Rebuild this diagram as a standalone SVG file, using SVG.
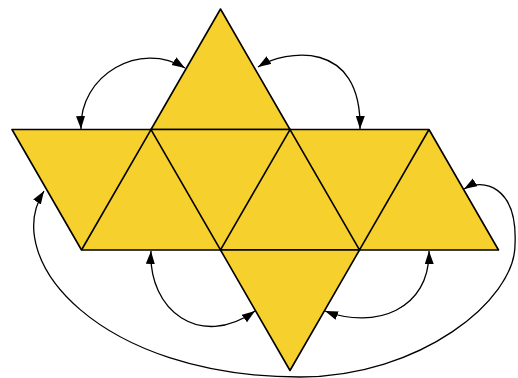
<svg xmlns="http://www.w3.org/2000/svg" width="518" height="378" viewBox="0 0 518 378">
<style>
.face{fill:#F6D02C;stroke:#000;stroke-width:1.6;stroke-linejoin:round}
.edge{fill:none;stroke:#000;stroke-width:1.6}
.conn{fill:none;stroke:#000;stroke-width:1.3;marker-start:url(#ah);marker-end:url(#ah)}
</style>
<defs>
<marker id="ah" markerUnits="userSpaceOnUse" markerWidth="14" markerHeight="10" refX="13" refY="4.5" orient="auto-start-reverse">
<path d="M0,0 L13,4.5 L0,9 Z" fill="#000"/>
</marker>
</defs>
<g id="net">
<g id="top-triangle"><polygon class="face" points="151,129.5 220.5,9 290,129.5"/></g>
<g id="strip"><polygon class="face" points="12,129.5 429,129.5 498.5,250 81.5,250"/></g>
<g id="bottom-triangle"><polygon class="face" points="220.5,250 290,370.5 359.5,250"/></g>
<g id="inner-edges"><polyline class="edge" points="81.5,250 151,129.5 220.5,250 290,129.5 359.5,250 429,129.5"/></g>
</g>
<g id="connectors">
<path class="conn" d="M81,129 C79,75 140,40 185,68"/>
<path class="conn" d="M258,67 C285,50 362,38 360,129"/>
<path class="conn" d="M151,251 C148,310 200,350 255,311"/>
<path class="conn" d="M429,251 C430,310 375,330 325,311"/>
<path class="conn" d="M44,191 C0,260 100,377 300,377 C420,377 515,300 515,245 C518,185 482,178 464,189"/>
</g>
</svg>
